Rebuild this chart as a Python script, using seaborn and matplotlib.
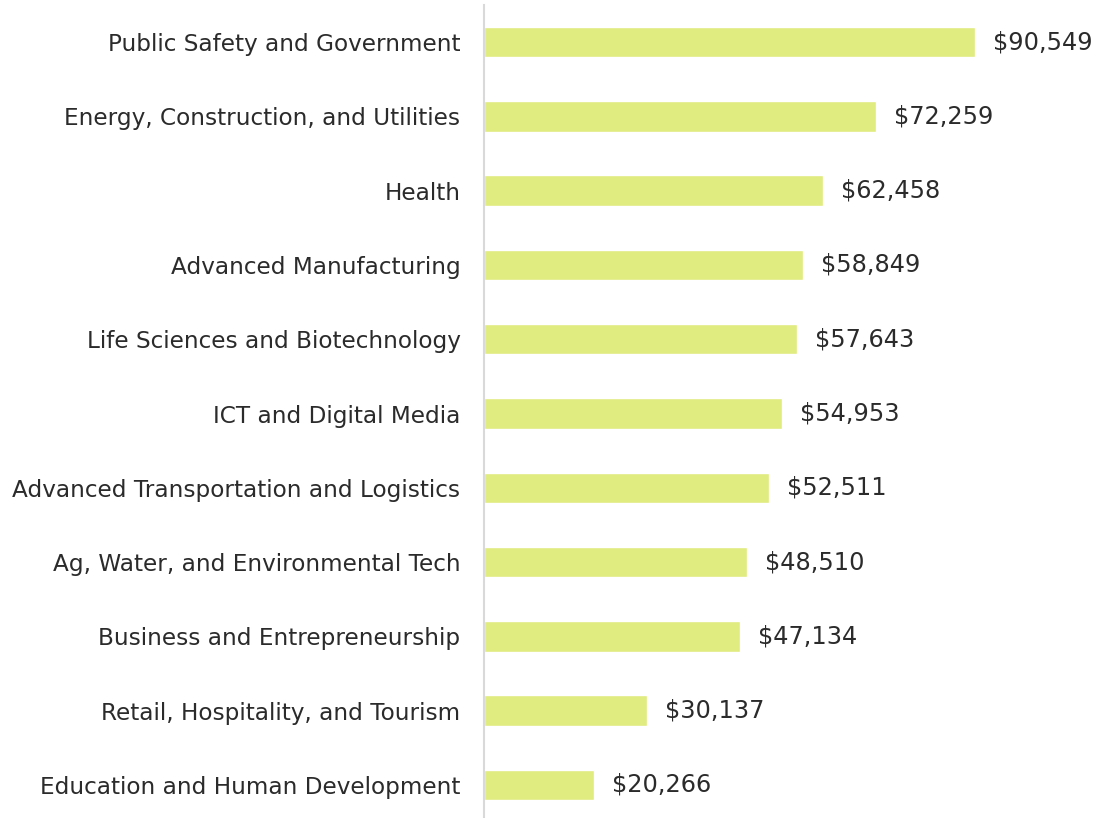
import matplotlib
matplotlib.use('Agg')

import matplotlib.pyplot as plt
import seaborn as sns
import pandas as pd

# Data
sectors = [
    'Public Safety and Government',
    'Energy, Construction, and Utilities',
    'Health',
    'Advanced Manufacturing',
    'Life Sciences and Biotechnology',
    'ICT and Digital Media',
    'Advanced Transportation and Logistics',
    'Ag, Water, and Environmental Tech',
    'Business and Entrepreneurship',
    'Retail, Hospitality, and Tourism',
    'Education and Human Development',
]
earnings = [90549, 72259, 62458, 58849, 57643, 54953, 52511, 48510, 47134, 30137, 20266]

BAR_COLOR = '#e0ec80'
TEXT_COLOR = '#2b2b2b'

sns.set_theme(style='white')
plt.rcParams['font.family'] = ['DejaVu Sans']

df = pd.DataFrame({'sector': sectors, 'earnings': earnings})

fig = plt.figure(figsize=(11.05, 8.18), dpi=100)
# axes spans from y=5px at top to a little below the figure bottom
ax = fig.add_axes([484 / 1105, -4 / 818, (1105 - 484) / 1105, 817 / 818])

sns.barplot(data=df, x='earnings', y='sector', color=BAR_COLOR, width=0.41,
            saturation=1, ax=ax)

for i, v in enumerate(earnings):
    ax.text(v + 3300, i, f'${v:,}', va='center', ha='left', fontsize=17.3,
            color=TEXT_COLOR)

ax.set_xlim(0, 114500)
ax.set_ylim(len(sectors) - 0.5, -0.5)
ax.set_xlabel('')
ax.set_ylabel('')
ax.set_xticks([])
ax.tick_params(axis='y', length=0, pad=17, labelsize=16.7, labelcolor=TEXT_COLOR)
for s in ['top', 'right', 'bottom']:
    ax.spines[s].set_visible(False)
ax.spines['left'].set_color('#d9d9d9')
ax.spines['left'].set_linewidth(1.5)

fig.savefig('out.png', dpi=100)
plt.close(fig)
